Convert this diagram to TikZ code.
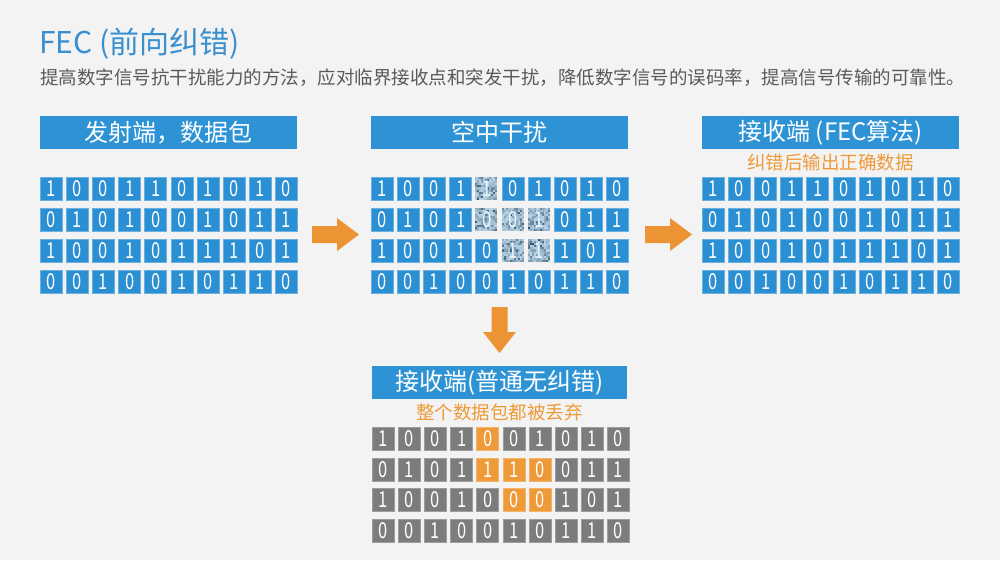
\documentclass[tikz,border=0pt]{standalone}
\usepackage{fontspec}
\setmainfont{Noto Sans CJK SC}
\newfontfamily\digf[FakeStretch=0.75]{Noto Sans CJK SC}
\definecolor{bgc}{HTML}{F3F3F3}
\definecolor{hblue}{HTML}{2E93D5}
\definecolor{cblue}{HTML}{2B8FD3}
\definecolor{cgray}{HTML}{7C7C7C}
\definecolor{corange}{HTML}{EE9A38}
\definecolor{aorange}{HTML}{EC9433}
\definecolor{tblue}{HTML}{3A8FCF}
\definecolor{tgray}{HTML}{5A5A5A}
\definecolor{nlight}{HTML}{B8D3E6}
\definecolor{ndark}{HTML}{2A4A63}
\tikzset{
  hdr/.style={fill=hblue, minimum width=257pt, minimum height=33pt, inner sep=0pt,
    text=white, font=\fontsize{24}{24}\selectfont, anchor=north west},
  cellbase/.style={minimum width=22pt, minimum height=23pt, inner sep=0pt,
    anchor=north west, text=white, font=\digf\fontsize{22}{22}\selectfont},
  cellb/.style={cellbase, fill=cblue, draw=cblue!70!white, line width=0.7pt},
  cellg/.style={cellbase, fill=cgray, draw=cgray!75!white, line width=0.7pt},
  cello/.style={cellbase, fill=corange, draw=corange!75!white, line width=0.7pt},
  celln/.style={cellbase, text=white!92!cblue},
  sub/.style={text=corange, font=\fontsize{18.5}{18.5}\selectfont},
  blockarrow/.style={fill=aorange}
}
\begin{document}
\begin{tikzpicture}[x=1pt,y=-1pt]
\fill[bgc] (0,0) rectangle (1000,560);
\useasboundingbox (0,0) rectangle (1000,560);

% title and description
\node[anchor=base west, inner sep=0pt, text=tblue, font=\fontsize{30}{30}\selectfont] (title) at (39,53) {FEC (前向纠错)};
\node[anchor=base west, inner sep=0pt, text=tgray, font=\fontsize{18.5}{18.5}\selectfont] (desc) at (40,84) {提高数字信号抗干扰能力的方法，应对临界接收点和突发干扰，降低数字信号的误码率，提高信号传输的可靠性。};

% headers
\node[hdr] (hL) at (40,116) {发射端，数据包};
\node[hdr] (hM) at (371,116) {空中干扰};
\node[hdr] (hR) at (702,116) {接收端 (FEC算法)};
\node[hdr, minimum width=255pt] (hB) at (372,366) {接收端(普通无纠错)};

\node[sub] (sR) at (830.5,162) {纠错后输出正确数据};
\node[sub] (sB) at (499.5,412) {整个数据包都被丢弃};

% left grid
\foreach \rowdata [count=\r] in {{1,0,0,1,1,0,1,0,1,0},{0,1,0,1,0,0,1,0,1,1},{1,0,0,1,0,1,1,1,0,1},{0,0,1,0,0,1,0,1,1,0}}{
  \foreach \v [count=\c] in \rowdata {
    \node[cellb] (L-\r-\c) at ({40+(\c-1)*26.11},{177+(\r-1)*31}) {\v};
  }
}
% right grid
\foreach \rowdata [count=\r] in {{1,0,0,1,1,0,1,0,1,0},{0,1,0,1,0,0,1,0,1,1},{1,0,0,1,0,1,1,1,0,1},{0,0,1,0,0,1,0,1,1,0}}{
  \foreach \v [count=\c] in \rowdata {
    \node[cellb] (R-\r-\c) at ({702+(\c-1)*26.11},{177+(\r-1)*31}) {\v};
  }
}
% middle grid (2/3 = noisy 0/1)
\pgfmathsetseed{7}
\foreach \rowdata [count=\r] in {{1,0,0,1,3,0,1,0,1,0},{0,1,0,1,2,2,3,0,1,1},{1,0,0,1,0,3,3,1,0,1},{0,0,1,0,0,1,0,1,1,0}}{
  \foreach \v [count=\c] in \rowdata {
    \pgfmathsetmacro\xx{371+(\c-1)*26.11}
    \pgfmathsetmacro\yy{177+(\r-1)*31}
    \ifnum\v>1
      \pgfmathtruncatemacro\dd{mod(\v,2)}
      \foreach \i in {0,...,10}{
        \foreach \j in {0,...,10}{
          \pgfmathtruncatemacro\sh{100*rnd*rnd}
          \fill[ndark!\sh!nlight] ({\xx+\i*2},{\yy+\j*23/11}) rectangle +(2.05,2.15);
        }
      }
      \node[celln] (M-\r-\c) at (\xx,\yy) {\dd};
    \else
      \node[cellb] (M-\r-\c) at (\xx,\yy) {\v};
    \fi
  }
}
% bottom grid (2/3 = orange 0/1)
\foreach \rowdata [count=\r] in {{1,0,0,1,2,0,1,0,1,0},{0,1,0,1,3,3,2,0,1,1},{1,0,0,1,0,2,2,1,0,1},{0,0,1,0,0,1,0,1,1,0}}{
  \foreach \v [count=\c] in \rowdata {
    \ifnum\v>1
      \pgfmathtruncatemacro\dd{mod(\v,2)}
      \node[cello] (B-\r-\c) at ({372+(\c-1)*26.11},{427+(\r-1)*30.5}) {\dd};
    \else
      \node[cellg] (B-\r-\c) at ({372+(\c-1)*26.11},{427+(\r-1)*30.5}) {\v};
    \fi
  }
}

% block arrows
\coordinate (a1) at (312,234.5);
\coordinate (a2) at (645,234.5);
\coordinate (a3) at (499.5,307);
\fill[blockarrow] (a1) ++(0,-8.5) -- ++(25,0) -- ++(0,-8) -- ++(22,16.5) -- ++(-22,16.5) -- ++(0,-8) -- ++(-25,0) -- cycle;
\fill[blockarrow] (a2) ++(0,-8.5) -- ++(25,0) -- ++(0,-8) -- ++(22,16.5) -- ++(-22,16.5) -- ++(0,-8) -- ++(-25,0) -- cycle;
\fill[blockarrow] (a3) ++(-8,0) -- ++(0,25) -- ++(-8.5,0) -- ++(16.5,21) -- ++(16.5,-21) -- ++(-8.5,0) -- ++(0,-25) -- cycle;
\end{tikzpicture}
\end{document}
